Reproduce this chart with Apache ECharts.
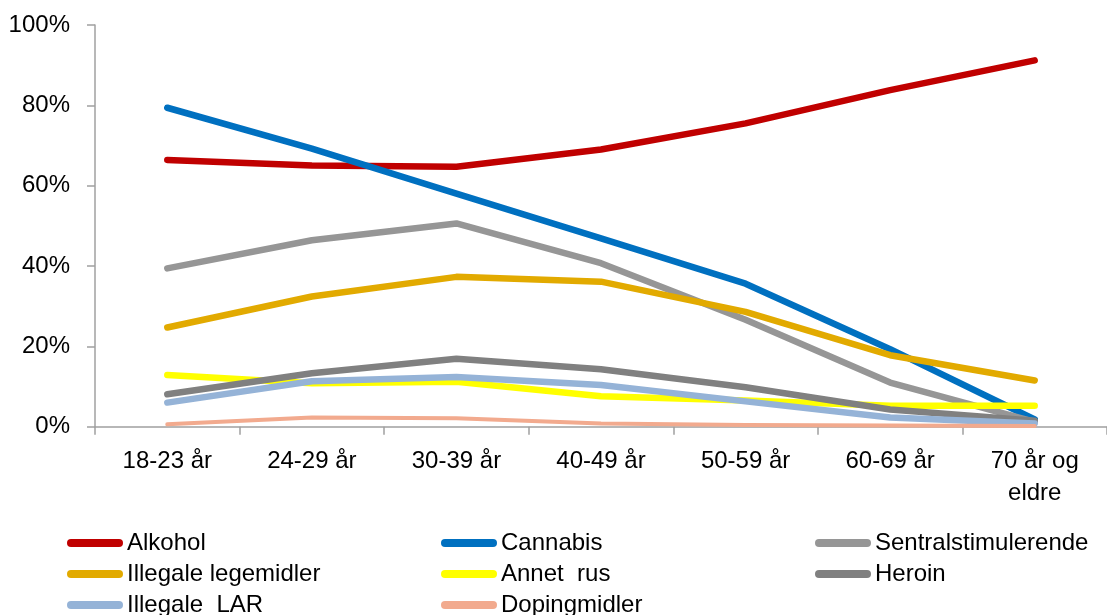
<!DOCTYPE html>
<html>
<head>
<meta charset="utf-8">
<script src="https://cdn.jsdelivr.net/npm/echarts@6/dist/echarts.min.js"></script>
<style>
  html, body { margin: 0; padding: 0; background: #fff; }
  #chart { width: 1107px; height: 615px; }
</style>
</head>
<body>
<div id="chart"></div>
<script>
// Age groups on the x axis
const categories = ['18-23 år', '24-29 år', '30-39 år', '40-49 år', '50-59 år', '60-69 år', '70 år og\neldre'];

// Share of respondents (%) per substance and age group
const alkohol = [66.4, 65.0, 64.7, 69.0, 75.5, 83.8, 91.2];
const cannabis = [79.4, 69.2, 58.0, 46.9, 35.6, 19.3, 1.8];
const sentralstimulerende = [39.4, 46.4, 50.6, 40.7, 26.6, 11.0, 1.2];
const illegaleLegemidler = [24.7, 32.4, 37.3, 36.1, 28.6, 17.8, 11.5];
const annetRus = [12.9, 10.8, 11.2, 7.6, 6.5, 5.2, 5.2];
const heroin = [8.1, 13.3, 16.9, 14.3, 9.8, 4.3, 1.5];
const illegaleLAR = [6.0, 11.3, 12.4, 10.4, 6.3, 2.3, 0.8];
const dopingmidler = [0.6, 2.3, 2.1, 0.8, 0.4, 0.3, 0.2];

// Series names in legend order
const seriesNames = ['Alkohol', 'Cannabis', 'Sentralstimulerende', 'Illegale legemidler',
  'Annet  rus', 'Heroin', 'Illegale  LAR', 'Dopingmidler'];
const seriesData = [alkohol, cannabis, sentralstimulerende, illegaleLegemidler,
  annetRus, heroin, illegaleLAR, dopingmidler];
const seriesColors = ['#C00000', '#0070C0', '#969696', '#E2AA00', '#FFFF00', '#808080', '#95B3D7', '#F2AA8E'];
const lineWidths = [6.5, 6.5, 6.5, 6.5, 6.5, 6.5, 6.5, 4];

const FONT = '"Liberation Sans", Arial, sans-serif';
const FONT_SIZE = 24;
const AXIS_GRAY = '#a0a0a0';
const capsule = 'path://M4,0 L52,0 A4,4 0 0 1 52,8 L4,8 A4,4 0 0 1 4,0 Z';

// Legend grid: three columns, three rows (filled row by row)
const legendColumnsX = [67, 441, 815];
const legendRowsY = [543, 574, 605];

const legends = seriesNames.map((name, i) => ({
  data: [name],
  left: legendColumnsX[i % 3],
  top: legendRowsY[Math.floor(i / 3)] - 12,
  padding: 0,
  itemWidth: 56,
  itemHeight: 8,
  icon: capsule,
  selectedMode: false,
  itemStyle: { borderWidth: 0 },
  textStyle: { fontFamily: FONT, fontSize: FONT_SIZE, color: '#000', lineHeight: 24, padding: [0, 0, 0, -1] }
}));

const chart = echarts.init(document.getElementById('chart'), null, { renderer: 'canvas' });

chart.setOption({
  animation: false,
  backgroundColor: '#fff',
  color: seriesColors,
  grid: { left: 95, top: 25, right: -7.5, bottom: 188.3, containLabel: false },
  legend: legends,
  xAxis: {
    type: 'category',
    data: categories,
    boundaryGap: true,
    axisLine: { lineStyle: { color: AXIS_GRAY, width: 1.5 } },
    axisTick: { show: true, length: 8, lineStyle: { color: AXIS_GRAY, width: 1.5 } },
    axisLabel: {
      interval: 0,
      margin: 19,
      fontFamily: FONT,
      fontSize: FONT_SIZE,
      lineHeight: 32,
      color: '#000'
    },
    splitLine: { show: false }
  },
  yAxis: {
    type: 'value',
    min: 0,
    max: 100,
    interval: 20,
    axisLine: { show: true, lineStyle: { color: AXIS_GRAY, width: 1.5 } },
    axisTick: { show: true, length: 8, lineStyle: { color: AXIS_GRAY, width: 1.5 } },
    axisLabel: {
      formatter: '{value}%',
      margin: 25,
      fontFamily: FONT,
      fontSize: FONT_SIZE,
      color: '#000'
    },
    splitLine: { show: false }
  },
  series: seriesNames.map((name, i) => ({
    name: name,
    type: 'line',
    data: seriesData[i],
    symbol: 'none',
    showSymbol: false,
    smooth: false,
    z: 2 + i,
    itemStyle: { color: seriesColors[i] },
    lineStyle: { color: seriesColors[i], width: lineWidths[i], cap: 'round', join: 'round' }
  }))
});
</script>
</body>
</html>
